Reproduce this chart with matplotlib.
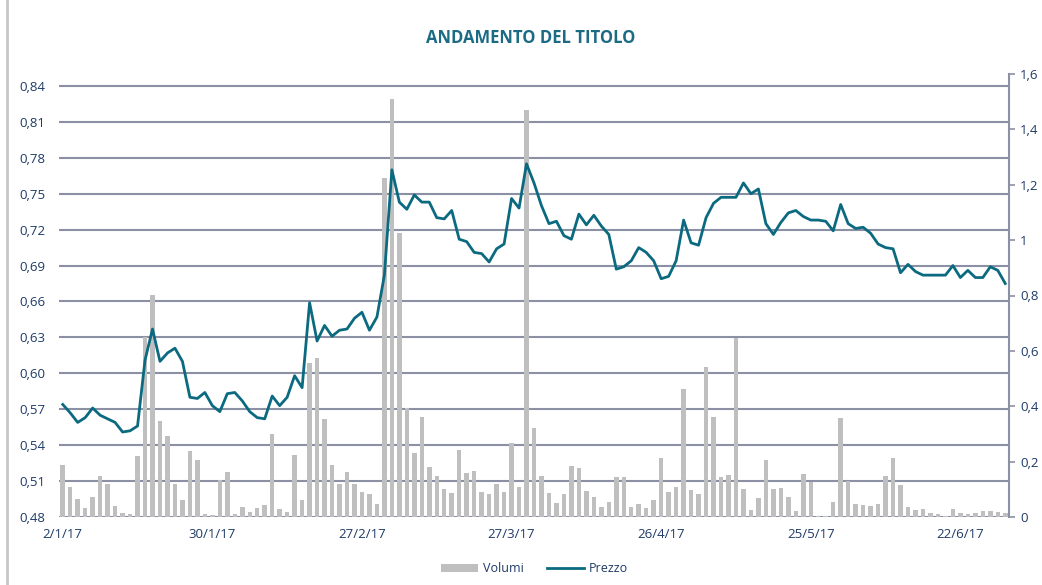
import matplotlib
matplotlib.use('Agg')
import matplotlib.pyplot as plt
from matplotlib.lines import Line2D
from matplotlib.patches import Patch
import pandas as pd

plt.rcParams['font.family'] = ['Open Sans', 'DejaVu Sans']

# trading days (Borsa Italiana closed 14/4, 17/4, 1/5)
holidays = ['2017-04-14', '2017-04-17', '2017-05-01']
days = pd.bdate_range('2017-01-02', '2017-06-30')
days = days[~days.isin(pd.to_datetime(holidays))]

prezzo = [
    0.574, 0.567, 0.559, 0.563, 0.571, 0.565, 0.562, 0.559, 0.551, 0.552,
    0.556, 0.611, 0.637, 0.610, 0.617, 0.621, 0.610, 0.580, 0.579, 0.584,
    0.573, 0.568, 0.583, 0.584, 0.577, 0.568, 0.563, 0.562, 0.581, 0.573,
    0.580, 0.598, 0.588, 0.659, 0.627, 0.640, 0.631, 0.636, 0.637, 0.646,
    0.651, 0.636, 0.647, 0.682, 0.770, 0.743, 0.737, 0.749, 0.743, 0.743,
    0.730, 0.729, 0.736, 0.712, 0.710, 0.701, 0.700, 0.693, 0.704, 0.708,
    0.746, 0.738, 0.775, 0.759, 0.740, 0.725, 0.727, 0.715, 0.712, 0.733,
    0.724, 0.732, 0.723, 0.716, 0.687, 0.689, 0.694, 0.705, 0.701, 0.694,
    0.679, 0.681, 0.694, 0.728, 0.709, 0.707, 0.730, 0.742, 0.747, 0.747,
    0.747, 0.759, 0.750, 0.754, 0.725, 0.716, 0.726, 0.734, 0.736, 0.731,
    0.728, 0.728, 0.727, 0.719, 0.741, 0.725, 0.721, 0.722, 0.717, 0.708,
    0.705, 0.704, 0.684, 0.691, 0.685, 0.682, 0.682, 0.682, 0.682, 0.690,
    0.680, 0.686, 0.680, 0.680, 0.689, 0.686, 0.675,
]

volumi = [
    0.188, 0.110, 0.066, 0.031, 0.072, 0.148, 0.120, 0.040, 0.016, 0.012,
    0.221, 0.651, 0.801, 0.347, 0.292, 0.118, 0.060, 0.238, 0.205, 0.012,
    0.006, 0.134, 0.161, 0.012, 0.035, 0.019, 0.031, 0.043, 0.298, 0.028,
    0.019, 0.225, 0.060, 0.558, 0.575, 0.354, 0.188, 0.118, 0.161, 0.120,
    0.089, 0.084, 0.046, 1.223, 1.509, 1.024, 0.392, 0.230, 0.362, 0.179,
    0.148, 0.100, 0.088, 0.241, 0.160, 0.167, 0.089, 0.082, 0.119, 0.089,
    0.268, 0.110, 1.469, 0.320, 0.148, 0.088, 0.049, 0.083, 0.184, 0.176,
    0.095, 0.071, 0.035, 0.053, 0.143, 0.143, 0.035, 0.046, 0.031, 0.061,
    0.214, 0.091, 0.110, 0.461, 0.096, 0.083, 0.540, 0.360, 0.143, 0.150,
    0.645, 0.102, 0.025, 0.067, 0.207, 0.100, 0.106, 0.072, 0.022, 0.154,
    0.128, 0.005, 0.005, 0.053, 0.356, 0.131, 0.047, 0.042, 0.039, 0.046,
    0.147, 0.214, 0.117, 0.035, 0.024, 0.028, 0.016, 0.012, 0.005, 0.028,
    0.016, 0.012, 0.016, 0.020, 0.022, 0.018, 0.016,
]

left_ticks = [0.48, 0.51, 0.54, 0.57, 0.60, 0.63, 0.66, 0.69, 0.72, 0.75, 0.78, 0.81, 0.84]
right_ticks = [0, 0.2, 0.4, 0.6, 0.8, 1.0, 1.2, 1.4, 1.6]

teal = '#0b6a80'
bar_col = '#bfbfbf'
grid_col = '#8b90a4'
txt_col = '#1f3b66'

x = list(range(len(days)))

fig = plt.figure(figsize=(10.42, 5.85), dpi=100)
fig.add_artist(Line2D([7 / 1042, 7 / 1042], [0, 1], color='#c8c8c8', lw=2))

ax = fig.add_axes([59 / 1042, 1 - 517 / 585, 950 / 1042, 443 / 585])
ax.set_xlim(-0.5, len(x) - 0.5)
ax.set_ylim(0.48, 0.85)
ax.set_yticks(left_ticks)
ax.set_yticklabels([('%.2f' % v).replace('.', ',') for v in left_ticks])
ax.grid(axis='y', color=grid_col, lw=1.5)
ax.set_axisbelow(True)
for s in ax.spines.values():
    s.set_visible(False)
ax.tick_params(axis='y', length=0, pad=10, labelsize=9.5, labelcolor=txt_col)
ax.set_xticks(x[::20])
ax.set_xticklabels(['%d/%d/%s' % (d.day, d.month, d.strftime('%y')) for d in days[::20]])
ax.tick_params(axis='x', length=0, pad=8, labelsize=9.5, labelcolor=txt_col)

# volumes on the right scale
ax2 = ax.twinx()
ax2.bar(x, volumi, width=0.6, color=bar_col, zorder=2)
ax2.set_ylim(0, 1.6)
ax2.set_yticks(right_ticks)
ax2.set_yticklabels([('%g' % v).replace('.', ',') for v in right_ticks])
for s in ['top', 'left', 'bottom']:
    ax2.spines[s].set_visible(False)
ax2.spines['right'].set_color(grid_col)
ax2.spines['right'].set_linewidth(1.5)
ax2.tick_params(axis='y', length=4, width=1.2, color=grid_col, pad=4,
                labelsize=9.5, labelcolor=txt_col)

# price line on top, left scale
ax3 = ax.twinx()
ax3.plot(x, prezzo, color=teal, lw=2.0, zorder=3)
ax3.set_ylim(0.48, 0.85)
ax3.set_yticks([])
for s in ax3.spines.values():
    s.set_visible(False)

fig.text(0.509, 0.935, 'ANDAMENTO DEL TITOLO', ha='center', va='center',
         fontsize=12, fontweight='bold', color='#1b6b85')

handles = [Patch(facecolor=bar_col, edgecolor='none'),
           Line2D([0], [0], color=teal, lw=2)]
fig.legend(handles, ['Volumi', 'Prezzo'], loc='center', bbox_to_anchor=(0.513, 0.028),
           ncol=2, frameon=False, fontsize=9, labelcolor=txt_col,
           handlelength=3.0, handleheight=0.6, columnspacing=1.8, handletextpad=0.4)

plt.savefig('out.png', dpi=100)
